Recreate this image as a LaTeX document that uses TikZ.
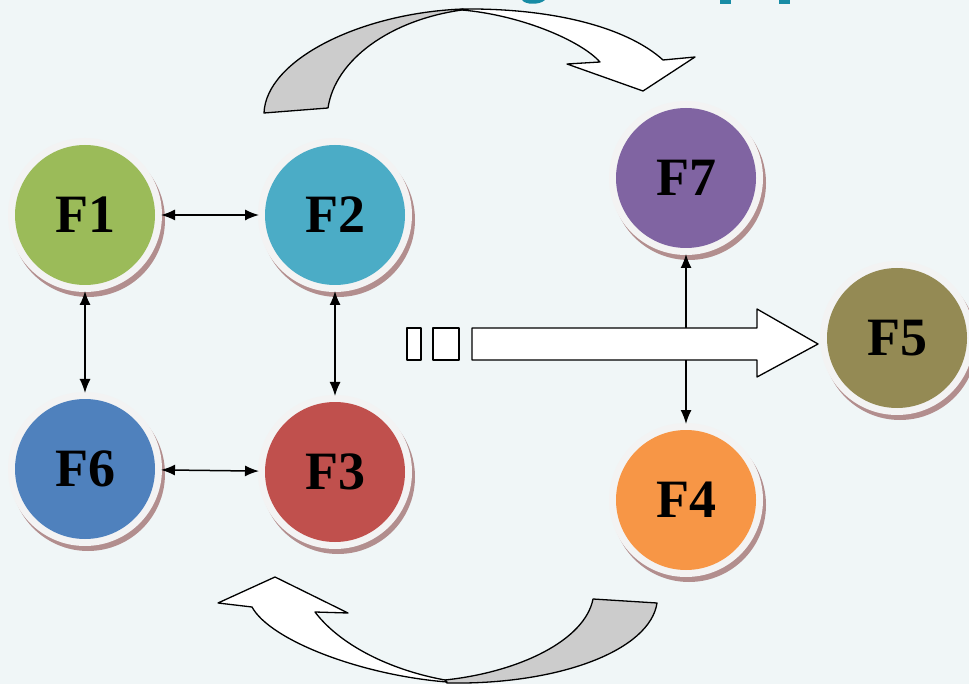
\documentclass[tikz,border=0pt]{standalone}
\usepackage{fontspec}
\setmainfont{Liberation Serif}
\usetikzlibrary{arrows.meta}
\definecolor{bgc}{RGB}{240,246,247}
\definecolor{ringc}{RGB}{243,243,243}
\definecolor{shadc}{RGB}{178,142,142}
\definecolor{tealc}{RGB}{24,140,165}
\definecolor{cF1}{HTML}{9BBB59}
\definecolor{cF2}{HTML}{4BACC6}
\definecolor{cF3}{HTML}{C0504D}
\definecolor{cF4}{HTML}{F79646}
\definecolor{cF5}{HTML}{948A54}
\definecolor{cF6}{HTML}{4F81BD}
\definecolor{cF7}{HTML}{8064A2}
\definecolor{tailc}{RGB}{204,204,204}
\newcommand\myball[5]{%
  \fill[shadc] (#2+3,#3+5) circle[radius=77];
  \fill[ringc] (#2,#3) circle[radius=77];
  \node[ball, fill=#4] (#1) at (#2,#3) {#5};
}
\begin{document}
\begin{tikzpicture}[x=1pt,y=-1pt,
  ball/.style={circle, minimum size=140pt, inner sep=0pt, outer sep=0pt,
    font=\fontsize{54}{54}\selectfont\bfseries, text=black},
  link/.style={{Latex[length=14pt,width=11pt]}-{Latex[length=14pt,width=11pt]},
    line width=1.5pt, shorten >=6pt, shorten <=6pt},
  oneway/.style={-{Latex[length=14pt,width=11pt]}, line width=1.5pt, shorten >=6pt},
  outline/.style={draw=black, line width=1.3pt, line join=round}]
\fill[bgc] (0,0) rectangle (969,684);
\useasboundingbox (0,0) rectangle (969,684);
% teal fragments at top edge
\fill[tealc] (522,0) .. controls (525,5) and (540,5) .. (545,0) -- cycle;
\fill[tealc] (720,0) rectangle (731,4);
\fill[tealc] (779,0) rectangle (790,4);
% top curved arrow
\draw[outline, fill=tailc] (463,9) .. controls (360,13) and (266,60) .. (264,113)
  -- (328,108) .. controls (335,60) and (390,20) .. (462,10) -- cycle;
\draw[outline, fill=white] (462,9) .. controls (560,8) and (630,30) .. (663,60)
  -- (695,57) -- (643,91) -- (567,64) -- (600,62)
  .. controls (580,40) and (520,15) .. (462,10) -- cycle;
% bottom curved arrow
\draw[outline, fill=tailc] (447,683) .. controls (560,685) and (650,650) .. (657,603)
  -- (593,599) .. controls (585,640) and (520,672) .. (445,680) -- cycle;
\draw[outline, fill=white] (447,682) .. controls (360,675) and (270,640) .. (252,607)
  -- (218,603) -- (275,577) -- (348,613) -- (315,612)
  .. controls (340,645) and (390,670) .. (445,680) -- cycle;
% balls
\myball{F1}{85}{215}{cF1}{F1}
\myball{F2}{335}{215}{cF2}{F2}
\myball{F6}{85}{469}{cF6}{F6}
\myball{F3}{335}{472}{cF3}{F3}
\myball{F7}{686}{178}{cF7}{F7}
\myball{F4}{686}{500}{cF4}{F4}
\myball{F5}{897}{338}{cF5}{F5}
% links
\draw[link] (F1) -- (F2);
\draw[link] (F1) -- (F6);
\draw[link] (F2) -- (F3);
\draw[link] (F6) -- (F3);
\coordinate (mid) at (686,344);
\draw[oneway] (mid) -- (F7);
\draw[oneway] (mid) -- (F4);
% big arrow
\draw[outline, fill=white] (472,328) -- (757,328) -- (757,309) -- (818,344)
  -- (757,377) -- (757,360) -- (472,360) -- cycle;
\draw[outline, fill=white] (407,328) rectangle (421,360);
\draw[outline, fill=white] (433,328) rectangle (459,360);
\end{tikzpicture}
\end{document}
